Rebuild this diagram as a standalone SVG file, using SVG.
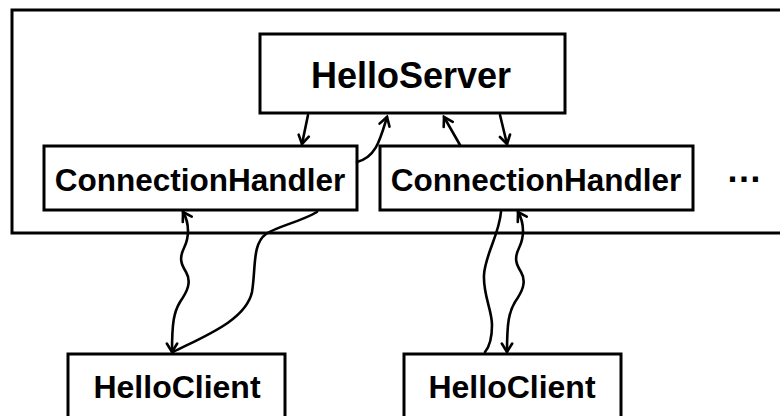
<svg xmlns="http://www.w3.org/2000/svg" width="780" height="416" viewBox="0 0 780 416">
  <defs>
    <style>
      .box { fill: #ffffff; stroke: #000000; stroke-width: 3; }
      .lbl { font-family: "Liberation Sans", Arial, sans-serif; font-weight: bold; fill: #000000; text-anchor: middle; }
      .conn { fill: none; stroke: #000000; stroke-width: 2.6; stroke-linecap: round; }
      .arr { marker-end: url(#arrow); }
      .both { marker-start: url(#arrow); marker-end: url(#arrow); }
    </style>
    <marker id="arrow" markerUnits="userSpaceOnUse" markerWidth="16" markerHeight="16" viewBox="-11 -8 13 16" refX="0" refY="0" orient="auto-start-reverse">
      <path d="M-8.5,-5.2 L0,0 L-8.5,5.2" fill="none" stroke="#000000" stroke-width="2.6" stroke-linejoin="miter" stroke-linecap="round"/>
    </marker>
  </defs>
  <rect width="780" height="416" fill="#ffffff"/>

  <g id="container">
    <rect x="12" y="10" width="790" height="223" fill="none" stroke="#000000" stroke-width="3"/>
  </g>

  <g id="helloserver">
    <rect class="box" x="260" y="34" width="305" height="79"/>
    <text class="lbl" x="411" y="88" font-size="36">HelloServer</text>
  </g>

  <g id="handler1">
    <rect class="box" x="44" y="146" width="313" height="64"/>
    <text class="lbl" x="200" y="191" font-size="31.5">ConnectionHandler</text>
  </g>

  <g id="handler2">
    <rect class="box" x="380" y="146" width="313" height="64"/>
    <text class="lbl" x="536" y="191" font-size="31.5">ConnectionHandler</text>
  </g>

  <g id="ellipsis">
    <text class="lbl" x="744" y="182" font-size="36">…</text>
  </g>

  <g id="client1">
    <rect class="box" x="68" y="354" width="217" height="80"/>
    <text class="lbl" x="177" y="398" font-size="32">HelloClient</text>
  </g>

  <g id="client2">
    <rect class="box" x="404" y="354" width="217" height="80"/>
    <text class="lbl" x="512" y="398" font-size="32">HelloClient</text>
  </g>

  <g id="connectors">
    <path class="conn arr" d="M308,115 L302,144"/>
    <path class="conn arr" d="M357,162 C376,157 380,140 387,117"/>
    <path class="conn arr" d="M460,145 Q452,131 444,117"/>
    <path class="conn arr" d="M500,115 L507,144"/>

    <path class="conn both" d="M183,212 C190,224 189,238 184,248 C179,258 181,264 186,272 C192,282 187,292 180,302 C174,312 172,322 172,352"/>
    <path class="conn" d="M317,212 C300,222 278,226 266,234 C252,244 256,268 252,292 C246,320 205,336 173,352"/>

    <path class="conn" d="M501,212 C499,235 485,255 484,275 C483,295 492,310 492,325 C492,338 490,346 485,352"/>
    <path class="conn both" d="M518,212 C525,224 524,238 519,248 C514,258 516,264 521,272 C527,282 522,292 515,302 C509,312 507,322 507,352"/>
  </g>
</svg>
